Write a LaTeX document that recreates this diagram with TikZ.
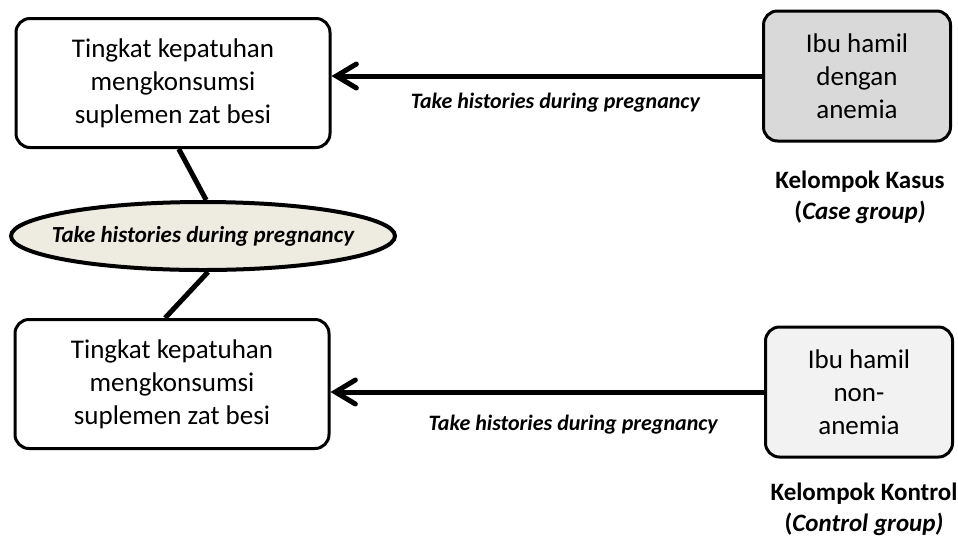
\documentclass[tikz,border=0pt]{standalone}
\usepackage{fontspec}
\setmainfont{Carlito}
\usetikzlibrary{shapes.geometric, arrows.meta}
\definecolor{casegray}{HTML}{D9D9D9}
\definecolor{controlgray}{HTML}{F2F2F2}
\definecolor{beige}{HTML}{EEECE1}
\begin{document}
\begin{tikzpicture}[x=1pt, y=-1pt]
    % Define styles
    \tikzset{
        outcome/.style={draw, line width=3pt, rounded corners=14pt, minimum width=314pt, minimum height=129pt, align=center, font=\fontsize{27}{33}\selectfont},
        groupbox/.style={draw, line width=3pt, rounded corners=14pt, minimum width=187pt, minimum height=130pt, align=center, font=\fontsize{27}{33}\selectfont},
        history/.style={ellipse, draw, line width=4pt, fill=beige, minimum width=384pt, minimum height=68pt, inner xsep=-20pt, inner ysep=0pt, font=\fontsize{23}{26}\selectfont\bfseries\itshape},
        grouplabel/.style={align=center, font=\fontsize{25}{31}\selectfont\bfseries},
        link/.style={line width=5pt},
        thickarrow/.style={line width=5pt, -{Straight Barb[length=20pt, width=24pt, line cap=round]}},
        arrowlabel/.style={font=\fontsize{22}{24}\selectfont\bfseries\itshape}
    }
    \useasboundingbox (0,0) rectangle (958,550);

    % Outcome boxes (left)
    \node[outcome] (tk1) at (173,83) {Tingkat kepatuhan\\mengkonsumsi\\suplemen zat besi};
    \node[outcome] (tk2) at (172,384) {Tingkat kepatuhan\\mengkonsumsi\\suplemen zat besi};

    % Retrospective history
    \node[history] (hist) at (203,236) {Take histories during pregnancy};

    % Links between outcomes and history
    \draw[link] (tk1.-85) -- (hist.85);
    \draw[link] (hist.-82) -- (tk2.96);

    % Case group
    \node[groupbox, fill=casegray] (kasus) at (857,76) {Ibu hamil\\dengan\\anemia};
    \node[grouplabel] (kasuslbl) at (860,197) {Kelompok Kasus\\(\textit{Case group)}};

    % Control group
    \node[groupbox, fill=controlgray] (kontrol) at (859,392) {Ibu hamil\\non-\\anemia};
    \node[grouplabel] (kontrollbl) at (864,509) {Kelompok Kontrol\\(\textit{Control group)}};

    % Arrows
    \draw[thickarrow] (kasus.west) -- (kasus.west -| tk1.east) node[arrowlabel, pos=0.48, below=11pt] {Take histories during pregnancy};
    \draw[thickarrow] (kontrol.west) -- (kontrol.west -| tk2.east) node[arrowlabel, pos=0.44, below=17pt] {Take histories during pregnancy};

\end{tikzpicture}
\end{document}
